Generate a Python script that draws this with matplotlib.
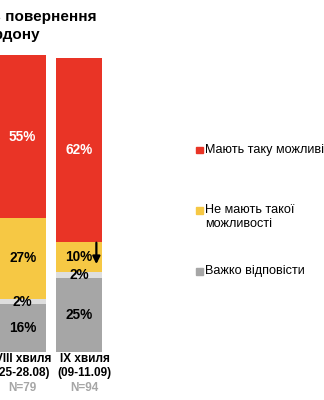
import numpy as np
import matplotlib.pyplot as plt
from matplotlib.patches import Rectangle
from matplotlib.transforms import blended_transform_factory, offset_copy

plt.rcParams['font.family'] = ['Liberation Sans', 'DejaVu Sans']

# survey waves and sample sizes
waves = ['VIII хвиля\n(25-28.08)', 'IX хвиля\n(09-11.09)']
sample_sizes = ['N=79', 'N=94']

# stacked segments, bottom to top
hard_to_say = [16, 25]
other = [2, 2]
no_chance = [27, 10]
have_chance = [55, 62]

series = [hard_to_say, other, no_chance, have_chance]
colors = ['#A6A6A6', '#DEDEDE', '#F6C844', '#E93426']
text_colors = ['black', 'black', 'black', 'white']

legend_labels = ['Мають таку можливість', 'Не мають такої\nможливості', 'Важко відповісти']
legend_colors = ['#E93426', '#F6C844', '#A6A6A6']

W, H = 324, 400
fig = plt.figure(figsize=(W / 100, H / 100), dpi=100)

# axes spans x 0..110 px, y 55..352 px (from top)
ax = fig.add_axes([0, 1 - 352 / H, 110 / W, 297 / H])
px_per_unit = 56.2
x0 = 22.75 / px_per_unit
ax.set_xlim(-x0, 110 / px_per_unit - x0)
ax.set_ylim(0, 100)
ax.axis('off')

x = np.arange(len(waves))
width = 46.3 / px_per_unit
bottom = np.zeros(len(waves))
for vals, col, tcol in zip(series, colors, text_colors):
    vals = np.array(vals, dtype=float)
    ax.bar(x, vals, width, bottom=bottom, color=col, edgecolor='none')
    for xi, b, v in zip(x, bottom, vals):
        ax.text(xi, b + v / 2, f'{int(v)}%', ha='center', va='center',
                color=tcol, fontsize=9.8, fontweight='bold')
    bottom += vals

# decline marker next to the "no chance" value of the latest wave
top_no = hard_to_say[1] + other[1] + no_chance[1]
ax.annotate('', xy=(1.31, top_no - 7.4), xytext=(1.31, top_no - 0.2),
            arrowprops=dict(arrowstyle='-|>', color='black', lw=1.6,
                            mutation_scale=11, shrinkA=0, shrinkB=0))

# wave labels under the bars
trans = blended_transform_factory(ax.transData, fig.transFigure)
label_shift = [0, 5.5]
for xi, w, n, dx in zip(x, waves, sample_sizes, label_shift):
    t = offset_copy(trans, fig=fig, x=dx, units='dots')
    ax.text(xi, 1 - 366 / H, w, transform=t, ha='center', va='center',
            fontsize=8.5, fontweight='bold', linespacing=1.25)
    ax.text(xi, 1 - 388 / H, n, transform=t, ha='center', va='center',
            fontsize=8.5, fontweight='bold', color='#A6A6A6')

# title
fig.text(97 / W, 1 - 17 / H, 'Можливість повернення', ha='right', va='center',
         fontsize=11, fontweight='bold')
fig.text(40 / W, 1 - 35 / H, 'з-за кордону', ha='right', va='center',
         fontsize=11, fontweight='bold')

# legend
legend_y = [150, 210.5, 271.5]
for lab, col, ly in zip(legend_labels, legend_colors, legend_y):
    fig.patches.append(Rectangle((196 / W, 1 - (ly + 3.3) / H), 6.6 / W, 6.6 / H,
                                 transform=fig.transFigure, color=col))
    fig.text(205 / W, 1 - (ly - 6.5) / H, lab, ha='left', va='top',
             fontsize=9.1, linespacing=1.2)

fig.savefig('out.png', dpi=100)
